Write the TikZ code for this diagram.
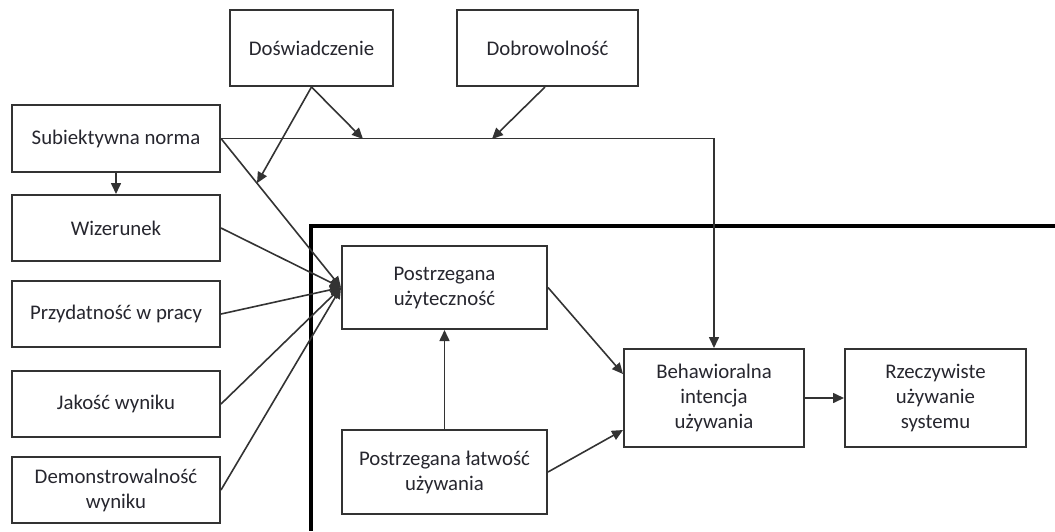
\documentclass[tikz,border=0pt]{standalone}
\usepackage{fontspec}
\setmainfont{Carlito}
\usetikzlibrary{arrows.meta,calc}
\definecolor{ink}{HTML}{26262E}
\definecolor{edge}{HTML}{333333}
\tikzset{
  box/.style={draw=edge, line width=2pt, fill=white, align=center,
    inner sep=2pt, font=\fontsize{20.8}{25}\selectfont, text=ink},
  link/.style={draw=edge, line width=1.6pt},
  arr/.style={link, -{Triangle[length=11pt,width=10pt]}},
  frame/.style={draw=black, line width=3.8pt}
}
\begin{document}
\begin{tikzpicture}[x=1pt,y=-1pt]
\useasboundingbox (0,0) rectangle (1055,531);

% thick boundary of the core model
\draw[frame] (1055,226) -- (311,226) -- (311,531);

% boxes
\node[box, minimum width=163, minimum height=76] (dos) at (311.5,48) {Doświadczenie};
\node[box, minimum width=181, minimum height=76] (dob) at (547.5,48) {Dobrowolność};
\node[box, minimum width=208, minimum height=67] (sn)  at (116,138.5) {Subiektywna norma};
\node[box, minimum width=208, minimum height=66] (wiz) at (116,228) {Wizerunek};
\node[box, minimum width=208, minimum height=66] (prz) at (116,314) {Przydatność w pracy};
\node[box, minimum width=208, minimum height=66] (jak) at (116,404) {Jakość wyniku};
\node[box, minimum width=208, minimum height=66] (dem) at (116,490) {Demonstrowalność\\wyniku};
\node[box, minimum width=205, minimum height=83] (pu)  at (444.5,287.5) {Postrzegana\\użyteczność};
\node[box, minimum width=205, minimum height=84] (pl)  at (444.5,472) {Postrzegana łatwość\\używania};
\node[box, minimum width=180, minimum height=98] (bi)  at (714,398) {Behawioralna\\intencja\\używania};
\node[box, minimum width=181, minimum height=98] (rz)  at (935.5,398) {Rzeczywiste\\używanie\\systemu};

% points where the moderators meet the paths
\coordinate (corner) at (bi.north |- sn.east);
\coordinate (mexp) at (363,139);
\coordinate (mvol) at (492,139);
\coordinate (mdiag) at ($(sn.east)!0.3!(pu.west)$);

% subjective norm paths
\draw[arr] (sn.east) -- (corner) -- (bi.north);
\draw[arr] (sn.south) -- (wiz.north);

% determinants of perceived usefulness
\draw[arr] (sn.east) -- (pu.west);
\draw[arr] (wiz.east) -- (pu.west);
\draw[arr] (prz.east) -- (pu.west);
\draw[arr] (jak.east) -- (pu.west);
\draw[arr] (dem.east) -- (pu.west);

% moderators
\draw[arr] (dos.south) -- (mexp);
\draw[arr] (dos.south) -- (mdiag);
\draw[arr] ([xshift=-2.5pt]dob.south) -- (mvol);

% core model
\draw[arr] (pl.north) -- (pu.south);
\draw[arr] (pu.east) -- ($(bi.west)+(0,-24)$);
\draw[arr] (pl.east) -- ($(bi.west)+(0,32)$);
\draw[arr] (bi.east) -- (rz.west);
\end{tikzpicture}
\end{document}
